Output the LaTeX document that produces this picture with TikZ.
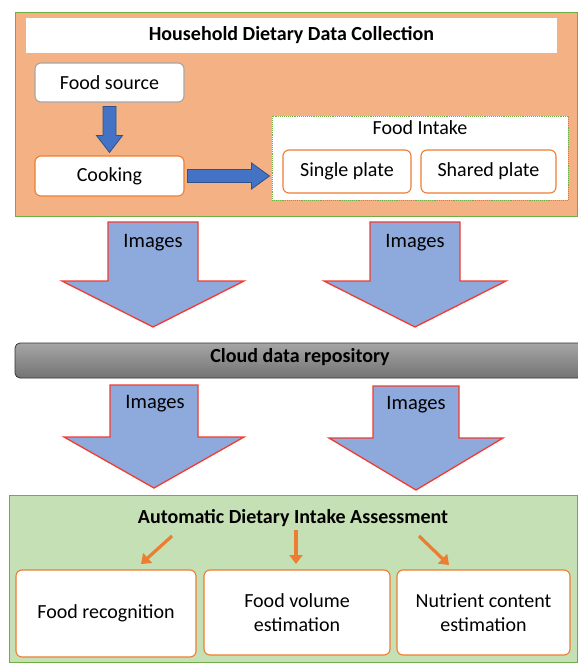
\documentclass[tikz,border=0pt]{standalone}
\usepackage{fontspec}
\setmainfont{Carlito}
\usetikzlibrary{arrows.meta,calc}
\definecolor{boxorange}{HTML}{F4B183}
\definecolor{boxgreen}{HTML}{C5E0B4}
\definecolor{gborder}{HTML}{70AD47}
\definecolor{oborder}{HTML}{ED7D31}
\definecolor{blockblue}{HTML}{8EA9DB}
\definecolor{blockred}{HTML}{F03C32}
\definecolor{darkblue}{HTML}{4472C4}
\definecolor{darkblueb}{HTML}{2F528F}
\definecolor{grayb}{HTML}{A6A6A6}
\tikzset{
  panel/.style={draw=gborder, line width=1.2pt},
  wbox/.style={draw=oborder, fill=white, rounded corners=6pt, line width=1.1pt, align=center, font=\fontsize{20}{24}\selectfont},
  graybox/.style={wbox, draw=grayb},
  bigarrow/.style={fill=blockblue, draw=blockred, line width=1.3pt, line join=miter},
  smallarrow/.style={fill=darkblue, draw=darkblueb, line width=0.8pt},
  oarrow/.style={draw=oborder, line width=3.2pt, -{Triangle[length=9pt,width=13pt]}},
  lbl/.style={font=\fontsize{20.5}{24}\selectfont},
  btitle/.style={font=\bfseries\fontsize{20}{24}\selectfont},
}
\newcommand\blockdown[6]{% cx, top, shaftbottom, tip, shafthalf, headhalf
  \draw[bigarrow] ({#1-#5},#2) -- ({#1+#5},#2) -- ({#1+#5},#3) -- ({#1+#6},#3) -- (#1,#4) -- ({#1-#6},#3) -- ({#1-#5},#3) -- cycle;}
\begin{document}
\begin{tikzpicture}[x=1pt,y=-1pt]
\useasboundingbox (0,0) rectangle (578,665);
\fill[white] (0,0) rectangle (578,665);
% top panel
\node[panel, fill=boxorange, minimum width=562pt, minimum height=204pt, anchor=north west] (top) at (15,12) {};
\node[fill=white, minimum width=531pt, minimum height=35pt, btitle] (title) at (291.5,35.5) {Household Dietary Data Collection};
\node[graybox, minimum width=149pt, minimum height=39pt] (fs) at (109.5,82.5) {Food source};
\node[wbox, minimum width=149pt, minimum height=40pt] (ck) at (109.5,176) {Cooking};
\node[draw=gborder, densely dotted, line width=0.9pt, fill=white, minimum width=296pt, minimum height=84pt] (fi) at (420,158) {};
\node[font=\fontsize{20}{24}\selectfont] (fil) at (420,128) {Food Intake};
\node[wbox, minimum width=128pt, minimum height=43pt] (sp) at (347,171.5) {Single plate};
\node[wbox, minimum width=135pt, minimum height=43pt] (shp) at (488.5,171.5) {Shared plate};
% small blue arrows
\draw[smallarrow] ($(fs.south)+(-6.5,4)$) -- ($(fs.south)+(6.5,4)$) -- ($(fs.south)+(6.5,33)$) -- ($(fs.south)+(13,33)$) -- ($(ck.north)+(0,-3)$) -- ($(fs.south)+(-13,33)$) -- ($(fs.south)+(-6.5,33)$) -- cycle;
\coordinate (ra) at (ck.east -| fi.west);
\draw[smallarrow] ($(ck.east)+(3,-6.5)$) -- ($(ra)+(-20,-6.5)$) -- ($(ra)+(-20,-13)$) -- ($(ra)+(-2,0)$) -- ($(ra)+(-20,13)$) -- ($(ra)+(-20,6.5)$) -- ($(ck.east)+(3,6.5)$) -- cycle;
% big arrows top
\blockdown{153}{222}{281}{327}{45}{91}
\blockdown{415}{222}{281}{327}{45}{91}
\node[lbl] (im1) at (153,243) {Images};
\node[lbl] (im2) at (415,243) {Images};
% cloud bar
\shade[top color=black!35, bottom color=black!55, rounded corners=5pt, draw=black!80, line width=0.8pt] (15,343) rectangle (600,378);
\node[btitle] (cloud) at (300,357) {Cloud data repository};
% big arrows bottom
\blockdown{154}{385}{437}{488}{44}{90}
\blockdown{416}{386}{438}{490}{43}{87}
\node[lbl] (im3) at (155,404) {Images};
\node[lbl] (im4) at (416,405) {Images};
% bottom panel
\node[panel, fill=boxgreen, minimum width=568pt, minimum height=167pt, anchor=north west] (bot) at (9,495) {};
\node[btitle] (atitle) at (293,518) {Automatic Dietary Intake Assessment};
\node[wbox, minimum width=180pt, minimum height=87pt] (fr) at (106,613.5) {Food recognition};
\node[wbox, minimum width=186pt, minimum height=85pt] (fv) at (297,612.5) {Food volume\\estimation};
\node[wbox, minimum width=173pt, minimum height=85pt] (nc) at (483.5,612.5) {Nutrient content\\estimation};
\coordinate (o1s) at (172,536); \coordinate (o1e) at (141,564);
\coordinate (o2s) at (296,530); \coordinate (o2e) at (296,564);
\coordinate (o3s) at (419,536); \coordinate (o3e) at (449,565);
\draw[oarrow] (o1s) -- (o1e);
\draw[oarrow] (o2s) -- (o2e);
\draw[oarrow] (o3s) -- (o3e);
\end{tikzpicture}
\end{document}
